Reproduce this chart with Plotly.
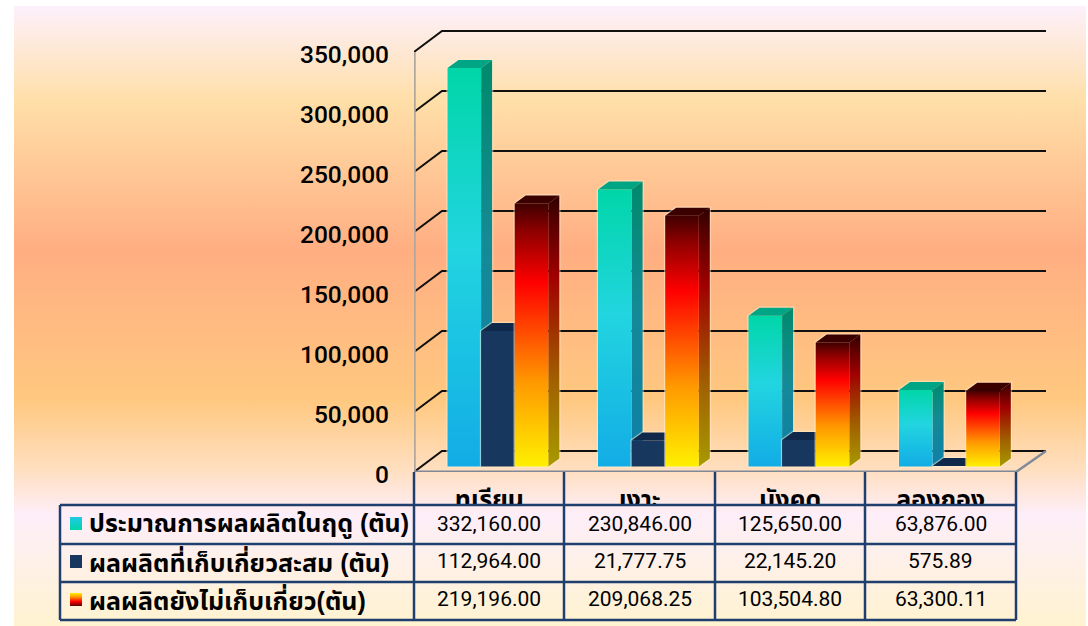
import plotly.graph_objects as go

categories = ["ทุเรียน", "เงาะ", "มังคุด", "ลองกอง"]
series_names = ["ประมาณการผลผลิตในฤดู (ตัน)", "ผลผลิตที่เก็บเกี่ยวสะสม (ตัน)", "ผลผลิตยังไม่เก็บเกี่ยว(ตัน)"]
forecast = [332160.00, 230846.00, 125650.00, 63876.00]
harvested = [112964.00, 21777.75, 22145.20, 575.89]
remaining = [219196.00, 209068.25, 103504.80, 63300.11]
y_ticks = [0, 50000, 100000, 150000, 200000, 250000, 300000, 350000]

W, H = 1088, 626
X0, X1, Y0, Y1 = 414, 1050, 472, 28
CAT_PX = 150.5
PX_PER_UNIT = 1.2 / 1000
DEPTH_X = 28 / CAT_PX
DEPTH_Y = 21 / PX_PER_UNIT
BAR_START = 33.5 / CAT_PX
BAR_W = 33.6 / CAT_PX
BAR_DX = 11 / CAT_PX
BAR_DY = 8 / PX_PER_UNIT
BASE = 4500

FONT = "Liberation Sans, Noto Sans Thai, Loma, Garuda, Tahoma, Noto Sans, sans-serif"
NUM_FONT = "Roboto, Liberation Sans, sans-serif"

BG = [(6, "#FDF0FC"), (100, "#FFDFA8"), (250, "#FFAE82"), (400, "#FFC880"),
      (470, "#FFDFC0"), (515, "#FDEEF9"), (626, "#FFF3D0")]
bg_scale = [[(y - 6) / 620, c] for y, c in BG]

TEAL = [[0, "#12ACE6"], [0.55, "#22D5E0"], [1, "#00D6A8"]]
TEAL_SIDE = [[0, "#0E7FA8"], [0.55, "#158A96"], [1, "#008A6C"]]
FIRE = [[0, "#FFF000"], [0.32, "#FF9900"], [0.7, "#FF0000"], [0.9, "#8B0000"], [1, "#400000"]]
FIRE_SIDE = [[0, "#A89A00"], [0.32, "#A06000"], [0.7, "#A00000"], [0.9, "#580000"], [1, "#300000"]]

fig = go.Figure()


def poly(xs, ys, axis, color=None, scale=None, start=None, stop=None):
    t = dict(x=xs + xs[:1], y=ys + ys[:1], mode="lines", fill="toself", line=dict(width=0),
             hoverinfo="skip", showlegend=False, xaxis="x" + axis, yaxis="y" + axis)
    if scale:
        g = dict(type="vertical", colorscale=scale)
        if start is not None:
            g.update(start=start, stop=stop)
        t["fillgradient"] = g
    else:
        t["fillcolor"] = color
    fig.add_trace(go.Scatter(**t))


def line(xs, ys, color, width):
    fig.add_trace(go.Scatter(x=xs, y=ys, mode="lines", line=dict(color=color, width=width),
                             cliponaxis=False, hoverinfo="skip", showlegend=False, xaxis="x2", yaxis="y2"))


# page background
poly([14, 1086, 1086, 14], [6, 6, 626, 626], "", scale=bg_scale, start=6, stop=626)

# walls and gridlines
n_cat = len(categories)
GRID_END = n_cat + DEPTH_X + 2 / CAT_PX
for v in y_ticks:
    line([0, DEPTH_X, GRID_END], [v, v + DEPTH_Y, v + DEPTH_Y], "#111111", 2)
line([0, 0], [0, 350000], "#B0A89C", 3.5)
line([n_cat, GRID_END], [0, DEPTH_Y], "#808A98", 2.5)
line([0, n_cat], [0, 0], "#7F8896", 3)

# bars
styles = [
    (forecast, TEAL, TEAL_SIDE, None, None, "#00A585"),
    (harvested, None, None, "#17375E", "#153254", "#10284A"),
    (remaining, FIRE, FIRE_SIDE, None, None, "#3A0000"),
]
HALO = "rgba(255,240,210,0.5)"
for c in range(n_cat):
    for s, (vals, sc, sc_side, col, col_side, col_top) in enumerate(styles):
        v = vals[c]
        a = c + BAR_START + s * BAR_W
        b = a + BAR_W
        top = BASE + v
        line([a, a, a + BAR_DX, b + BAR_DX, b + BAR_DX, b, a],
             [BASE, top, top + BAR_DY, top + BAR_DY, BASE + BAR_DY, BASE, BASE], HALO, 2.5)
        poly([a, b, b + BAR_DX, a + BAR_DX], [top, top, top + BAR_DY, top + BAR_DY], "2", color=col_top)
        poly([b, b + BAR_DX, b + BAR_DX, b], [BASE, BASE + BAR_DY, top + BAR_DY, top], "2",
             color=col_side, scale=sc_side)
        poly([a, b, b, a], [BASE, BASE, top, top], "2", color=col, scale=sc)

# table cover: hides the lower part of the category labels
poly([60, 1016, 1016, 60], [505, 505, 620, 620], "3", scale=bg_scale, start=6, stop=626)

# legend keys in the table
KEY_X = (70, 82)
key_rows = [(517, 530), (555, 568), (593, 606)]
poly([KEY_X[0], KEY_X[1], KEY_X[1], KEY_X[0]], [key_rows[0][0]] * 2 + [key_rows[0][1]] * 2, "3",
     scale=[[0, "#00D6A8"], [1, "#22C8E6"]])
poly([KEY_X[0], KEY_X[1], KEY_X[1], KEY_X[0]], [key_rows[1][0]] * 2 + [key_rows[1][1]] * 2, "3",
     color="#17375E")
poly([KEY_X[0], KEY_X[1], KEY_X[1], KEY_X[0]], [key_rows[2][0]] * 2 + [key_rows[2][1]] * 2, "3",
     scale=[[0, "#600000"], [0.35, "#FF0000"], [0.7, "#FF9900"], [1, "#FFF000"]])

# table lines and text
COLS = [414, 564, 715, 865, 1016]
ROWS = [505, 544, 582, 620]
ROW_TEXT_Y = [524, 561, 599]
RULE = "#1F3F6E"
shapes = []
for x in COLS:
    shapes.append(dict(type="line", xref="paper", yref="paper", x0=x / W, x1=x / W,
                       y0=1 - 472 / H, y1=1 - 620 / H, line=dict(color=RULE, width=2.5)))
shapes.append(dict(type="line", xref="paper", yref="paper", x0=60 / W, x1=60 / W,
                   y0=1 - 505 / H, y1=1 - 620 / H, line=dict(color=RULE, width=2.5)))
for y in ROWS:
    shapes.append(dict(type="line", xref="paper", yref="paper", x0=60 / W, x1=1016 / W,
                       y0=1 - y / H, y1=1 - y / H, line=dict(color=RULE, width=2.5)))

ann = []
rows_vals = [forecast, harvested, remaining]
for r, vals in enumerate(rows_vals):
    yc = ROW_TEXT_Y[r]
    ann.append(dict(text="<b>%s</b>" % series_names[r], xref="paper", yref="paper", x=87 / W,
                    y=1 - yc / H, xanchor="left", yanchor="middle", showarrow=False,
                    font=dict(family=FONT, size=25, color="#000000")))
    for c, v in enumerate(vals):
        xc = (COLS[c] + COLS[c + 1]) / 2
        ann.append(dict(text=f"{v:,.2f}", xref="paper", yref="paper", x=xc / W, y=1 - yc / H,
                        xanchor="center", yanchor="middle", showarrow=False,
                        font=dict(family=NUM_FONT, size=21, weight=400, color="#000000")))

hidden = dict(showgrid=False, zeroline=False, showline=False, ticks="", showticklabels=False, automargin=False)
fig.update_layout(
    template="none",
    width=W, height=H, margin=dict(l=0, r=0, t=0, b=0, autoexpand=False), showlegend=False,
    paper_bgcolor="#FFFFFF", plot_bgcolor="rgba(0,0,0,0)",
    shapes=shapes, annotations=ann,
    xaxis=dict(domain=[0, 1], range=[0, W], **hidden),
    yaxis=dict(domain=[0, 1], range=[H, 0], **hidden),
    xaxis2=dict(domain=[X0 / W, X1 / W], range=[0, (X1 - X0) / CAT_PX], anchor="y2", automargin=False,
                tickvals=[i + 0.5 for i in range(n_cat)], ticktext=["<b>%s</b>" % c for c in categories],
                tickfont=dict(family=FONT, size=25, color="#000000"), ticklabelstandoff=10,
                showgrid=False, zeroline=False, showline=False, ticks=""),
    yaxis2=dict(domain=[1 - Y0 / H, 1 - Y1 / H], range=[0, (Y0 - Y1) / PX_PER_UNIT], anchor="x2", automargin=False,
                tickvals=y_ticks, ticktext=[f"{v:,}" for v in y_ticks],
                tickfont=dict(family=NUM_FONT, size=24.5, weight=500, color="#000000"), ticklabelstandoff=24,
                ticklabelshift=2,
                showgrid=False, zeroline=False, showline=False, ticks=""),
    xaxis3=dict(domain=[0, 1], range=[0, W], anchor="y3", **hidden),
    yaxis3=dict(domain=[0, 1], range=[H, 0], anchor="x3", **hidden),
)
fig.write_html("out.html", config={"displayModeBar": False},
               post_script="document.documentElement.style.cssText='margin:0;padding:0;overflow:hidden;height:626px';"
                           "document.body.style.cssText='margin:0;padding:0;overflow:hidden;height:626px';")
